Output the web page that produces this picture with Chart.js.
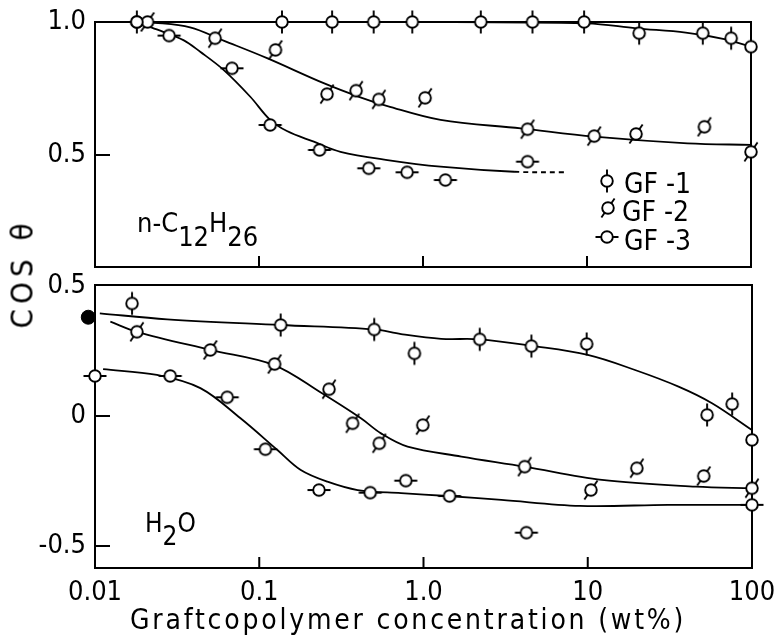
<!DOCTYPE html>
<html>
<head>
<meta charset="utf-8">
<script src="https://cdn.jsdelivr.net/npm/chart.js@4.4.1/dist/chart.umd.min.js"></script>
<style>
  body { margin: 0; background: #fff; width: 778px; height: 641px; position: relative; overflow: hidden;
    font-family: 'DejaVu Sans Condensed', 'DejaVu Sans', sans-serif; color: #000; }
  canvas.chart { position: absolute; left: 0; }
  #top { top: 0; }
  #bot { top: 255px; }
  .t { position: absolute; white-space: nowrap; line-height: 1; }
  .t span.s { position: relative; top: 0.5em; }
  .leg { position: absolute; }
</style>
</head>
<body>
<canvas id="top" class="chart" width="778" height="276"></canvas>
<canvas id="bot" class="chart" width="778" height="386"></canvas>

<div class="t" style="left:137px;top:209px;font-size:27px">n-C<span class="s">12</span>H<span class="s">26</span></div>
<div class="t" style="left:145px;top:510px;font-size:26px">H<span class="s">2</span>O</div>
<div class="t" style="left:-28px;top:263px;font-size:31px;letter-spacing:5px;transform:rotate(-90deg);width:100px;text-align:center">COS θ</div>
<div class="t" style="left:130px;top:606px;font-size:28px;letter-spacing:2.8px">Graftcopolymer concentration (wt%)</div>

<canvas class="leg" id="lg1" width="30" height="30" style="left:592px;top:166px"></canvas>
<canvas class="leg" id="lg2" width="30" height="30" style="left:593px;top:193px"></canvas>
<canvas class="leg" id="lg3" width="30" height="30" style="left:592px;top:222px"></canvas>
<div class="t" style="left:624px;top:170px;font-size:28px">GF -1</div>
<div class="t" style="left:622px;top:198px;font-size:28px">GF -2</div>
<div class="t" style="left:624px;top:227px;font-size:28px">GF -3</div>

<script>
'use strict';
const FONT = "'DejaVu Sans Condensed','DejaVu Sans',sans-serif";

// x axis (wt%), log
const xTicks = [0.01, 0.1, 1, 10, 100];
const xTickLabels = ['0.01', '0.1', '1.0', '10', '100'];
const topYTicks = [0.5, 1.0];
const botYTicks = [-0.5, 0, 0.5];

// n-C12H26 panel, measured points
const top1X = [0.018, 0.138, 0.279, 0.50, 0.86, 2.25, 4.65, 9.6, 20.8, 50.8, 75.7, 100];
const top1Y = [1.0, 1.0, 1.0, 1.0, 1.0, 1.0, 1.0, 1.0, 0.958, 0.958, 0.939, 0.907];
const top2X = [0.0209, 0.054, 0.126, 0.260, 0.391, 0.538, 1.03, 4.34, 11.07, 19.9, 52, 100];
const top2Y = [1.0, 0.939, 0.895, 0.729, 0.742, 0.709, 0.715, 0.597, 0.571, 0.579, 0.606, 0.512];
const top3X = [0.018, 0.0283, 0.0684, 0.117, 0.234, 0.467, 0.80, 1.37, 4.34];
const top3Y = [1.0, 0.949, 0.826, 0.613, 0.519, 0.450, 0.435, 0.406, 0.475];
// n-C12H26 panel, drawn curves
const topFit1X = [0.018, 1, 10, 20, 40, 70, 100];
const topFit1Y = [1.0, 1.0, 0.995, 0.976, 0.960, 0.935, 0.907];
const topFit2X = [0.0211, 0.038, 0.0608, 0.112, 0.248, 0.415, 0.607, 1.28, 3.95, 11.07, 41, 100];
const topFit2Y = [1.0, 0.980, 0.930, 0.864, 0.770, 0.717, 0.684, 0.632, 0.600, 0.569, 0.544, 0.538];
const topFit3X = [0.018, 0.0238, 0.0346, 0.0438, 0.0608, 0.0885, 0.117, 0.148, 0.216, 0.314, 0.607, 1.28, 3.59, 7.6];
const topFit3Y = [1.0, 0.972, 0.932, 0.888, 0.820, 0.719, 0.632, 0.590, 0.550, 0.512, 0.481, 0.456, 0.437, 0.435];

// H2O panel, measured points
const bot1X = [0.0168, 0.135, 0.501, 0.88, 2.20, 4.54, 9.85, 53.3, 75.7, 100];
const bot1Y = [0.433, 0.350, 0.333, 0.241, 0.295, 0.269, 0.277, 0.004, 0.046, -0.092];
const bot2X = [0.018, 0.0504, 0.124, 0.266, 0.370, 0.538, 0.99, 4.13, 10.45, 19.9, 50.8, 100];
const bot2Y = [0.324, 0.254, 0.200, 0.103, -0.028, -0.105, -0.035, -0.195, -0.285, -0.201, -0.231, -0.278];
const bot3X = [0.01, 0.0287, 0.0638, 0.109, 0.231, 0.474, 0.78, 1.44, 4.23, 100];
const bot3Y = [0.154, 0.154, 0.072, -0.128, -0.285, -0.295, -0.249, -0.308, -0.449, -0.342];
const pureX = [0.0091];   // filled dot, pure water
const pureY = [0.380];
// H2O panel, drawn curves
const botFit1X = [0.0107, 0.0275, 0.135, 0.50, 0.73, 1.28, 2.2, 4.54, 10, 19.4, 35.7, 57.1, 100];
const botFit1Y = [0.395, 0.372, 0.350, 0.333, 0.315, 0.297, 0.295, 0.270, 0.235, 0.177, 0.113, 0.049, -0.054];
const botFit2X = [0.0124, 0.018, 0.0504, 0.124, 0.237, 0.416, 0.551, 0.80, 1.70, 4.13, 12.2, 45.4, 100];
const botFit2Y = [0.363, 0.324, 0.254, 0.195, 0.090, -0.009, -0.067, -0.118, -0.156, -0.195, -0.246, -0.272, -0.278];
const botFit3X = [0.0112, 0.0238, 0.0438, 0.0769, 0.129, 0.179, 0.26, 0.397, 0.73, 1.40, 2.98, 8.96, 30.7, 100];
const botFit3Y = [0.180, 0.158, 0.107, -0.009, -0.131, -0.208, -0.253, -0.285, -0.297, -0.308, -0.323, -0.346, -0.342, -0.342];

const pts = (xs, ys) => xs.map((x, i) => ({ x, y: ys[i] }));

// circle with tick marks: 1 vertical, 2 slanted, 3 horizontal
function drawMarker(c, kind) {
  const g = c.getContext('2d'), m = c.width / 2, r = 5.8, L = 11.5;
  const a = kind === 1 ? Math.PI / 2 : kind === 2 ? Math.PI * 55 / 180 : 0;
  const dx = Math.cos(a), dy = -Math.sin(a);
  g.lineWidth = 1.9; g.strokeStyle = '#000'; g.fillStyle = '#fff';
  g.beginPath();
  g.moveTo(m + dx * r, m + dy * r); g.lineTo(m + dx * L, m + dy * L);
  g.moveTo(m - dx * r, m - dy * r); g.lineTo(m - dx * L, m - dy * L);
  g.stroke();
  g.beginPath(); g.arc(m, m, r, 0, 2 * Math.PI); g.fill(); g.stroke();
  return c;
}
function marker(kind) {
  const c = document.createElement('canvas'); c.width = c.height = 30;
  return drawMarker(c, kind);
}
const MK = [null, marker(1), marker(2), marker(3)];
[1, 2, 3].forEach((k) => drawMarker(document.getElementById('lg' + k), k));

function fit(xs, ys, dashLast) {
  const ds = { type: 'line', data: pts(xs, ys), borderColor: '#000', borderWidth: 1.8,
    pointRadius: 0, fill: false, tension: 0.35, clip: false, order: 2 };
  if (dashLast) ds.segment = { borderDash: (ctx) => (ctx.p0DataIndex >= xs.length - 2 ? [5, 4] : undefined) };
  return ds;
}
function marks(xs, ys, kind) {
  return { type: 'scatter', data: pts(xs, ys), pointStyle: MK[kind], clip: false, order: 1 };
}

const frameTicks = {
  id: 'frameTicks',
  beforeDatasetsDraw(chart, args, opts) {
    const { ctx, chartArea: a, scales } = chart;
    ctx.save();
    ctx.strokeStyle = '#000'; ctx.lineWidth = 2;
    ctx.strokeRect(a.left, a.top, a.right - a.left, a.bottom - a.top);
    ctx.beginPath();
    (opts.x || []).forEach((v) => {
      const px = scales.x.getPixelForValue(v);
      ctx.moveTo(px, a.bottom); ctx.lineTo(px, a.bottom - 11);
    });
    (opts.y || []).forEach((v) => {
      const py = scales.y.getPixelForValue(v);
      ctx.moveTo(a.left, py); ctx.lineTo(a.left + 15, py);
    });
    ctx.stroke();
    ctx.restore();
  }
};

// keep edge labels from pushing the plot area in
const noPad = (s) => { s.paddingTop = 0; s.paddingBottom = 0; s.paddingLeft = 0; s.paddingRight = 0; };

function yAxis(min, max, ticks, fmt) {
  return { min, max, grid: { display: false, drawTicks: false }, border: { display: false },
    afterBuildTicks: (s) => { s.ticks = ticks.map((v) => ({ value: v })); },
    afterFit: (s) => { s.width = 95; noPad(s); },
    ticks: { color: '#000', padding: 9, font: { family: FONT, size: 27 }, callback: fmt } };
}

function baseOptions(padding, tickX, tickY) {
  return { responsive: false, animation: false, layout: { padding },
    plugins: { legend: { display: false }, tooltip: { enabled: false },
      frameTicks: { x: tickX, y: tickY } } };
}

const topOpts = baseOptions({ top: 22, right: 27, bottom: 9, left: 0 }, [0.1, 1, 10], [0.5]);
topOpts.scales = {
  x: { type: 'logarithmic', min: 0.01, max: 100, display: false },
  y: yAxis(0.079, 1.0, topYTicks, (v) => v.toFixed(1)),
};
new Chart(document.getElementById('top'), {
  data: { datasets: [
    marks(top1X, top1Y, 1), marks(top2X, top2Y, 2), marks(top3X, top3Y, 3),
    fit(topFit1X, topFit1Y), fit(topFit2X, topFit2Y), fit(topFit3X, topFit3Y, true),
  ] },
  options: topOpts,
  plugins: [frameTicks],
});

const botOpts = baseOptions({ top: 30, right: 26, bottom: 0, left: 0 }, [0.1, 1, 10], [0, -0.5]);
botOpts.scales = {
  x: { type: 'logarithmic', min: 0.01, max: 100,
    grid: { display: false, drawTicks: false }, border: { display: false },
    afterBuildTicks: (s) => { s.ticks = xTicks.map((v) => ({ value: v })); },
    afterFit: (s) => { s.height = 73; noPad(s); },
    ticks: { color: '#000', padding: 9, maxRotation: 0, autoSkip: false,
      font: { family: FONT, size: 27 }, callback: (v, i) => xTickLabels[i] } },
  y: yAxis(-0.585, 0.504, botYTicks, (v) => (v === 0 ? '0' : v.toFixed(1))),
};
new Chart(document.getElementById('bot'), {
  data: { datasets: [
    { type: 'scatter', data: pts(pureX, pureY), pointStyle: 'circle', pointRadius: 7,
      backgroundColor: '#000', borderColor: '#000', clip: false, order: 0 },
    marks(bot1X, bot1Y, 1), marks(bot2X, bot2Y, 2), marks(bot3X, bot3Y, 3),
    fit(botFit1X, botFit1Y), fit(botFit2X, botFit2Y), fit(botFit3X, botFit3Y),
  ] },
  options: botOpts,
  plugins: [frameTicks],
});
</script>
</body>
</html>
